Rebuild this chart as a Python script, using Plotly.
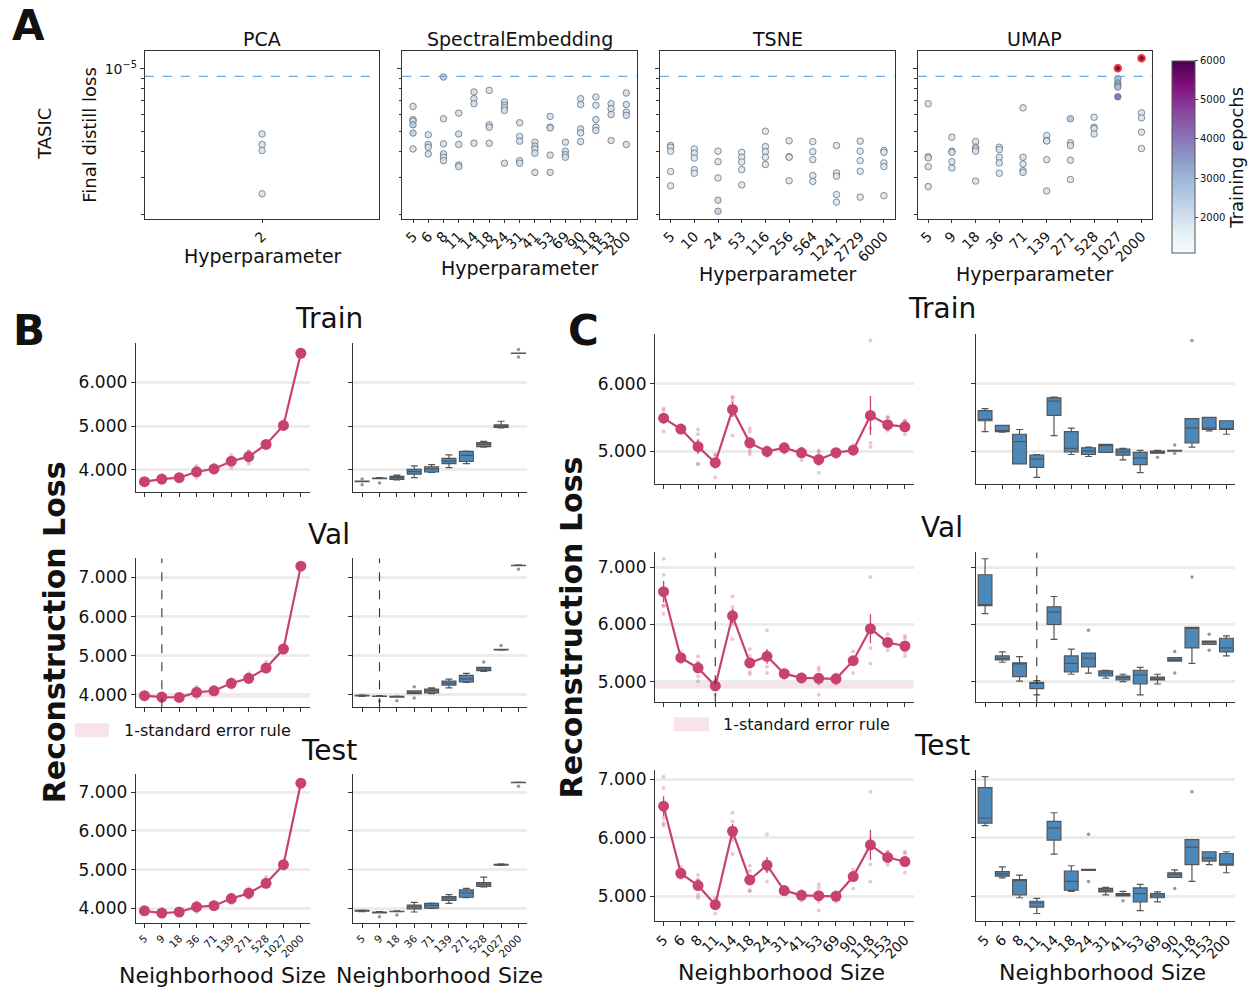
import numpy as np
import plotly.graph_objects as go

W, H = 1256, 990
def fx(px): return px / W
def fy(py): return 1 - py / H

# ---------------- Panel A data (final distill loss, in units of 1e-6) ----------------
THRESH = 9.19           # dashed reference line (x1e-6)
EPOCH_RANGE = (1080, 6000)

pca_hp = ["2"]
pca_loss = [[4.86, 4.33, 4.05, 2.51]]
pca_epochs = [[1900, 1900, 1900, 1900]]

se_hp = ["5", "6", "8", "11", "14", "18", "24", "31", "41", "53", "69", "90", "118", "153", "200"]
se_loss = [
    [6.59, 5.70, 5.60, 5.38, 4.91, 4.12],
    [4.82, 4.33, 4.20, 3.90],
    [9.12, 5.75, 4.36, 3.90, 3.76, 3.62],
    [6.12, 4.86, 4.33, 3.45, 3.39],
    [7.73, 7.18, 6.79, 4.39],
    [7.87, 5.38, 5.24, 4.39],
    [6.92, 6.67, 6.49, 6.31, 3.52],
    [5.50, 4.73, 4.49, 3.62, 3.52],
    [4.44, 4.25, 4.12, 3.93, 3.18],
    [5.90, 5.24, 5.20, 3.85, 3.18],
    [4.44, 4.02, 3.87, 3.76],
    [7.18, 6.73, 5.14, 4.92, 4.47],
    [7.31, 6.67, 5.70, 5.24, 5.05],
    [6.79, 6.43, 6.03, 4.52],
    [7.64, 6.73, 6.19, 5.97, 4.33],
]
se_epochs = [
    [2000, 2300, 2000, 2500, 2400, 2000],
    [2000, 2000, 2000, 2000],
    [2400, 2000, 2000, 2000, 2000, 2000],
    [2000, 2000, 2000, 2000, 2000],
    [2000, 2000, 2000, 2000],
    [2000, 2000, 2000, 2000],
    [2000, 2000, 2000, 2000, 2000],
    [2000, 2000, 2000, 2000, 2000],
    [2000, 2000, 2000, 2000, 2000],
    [2000, 2000, 2000, 2000, 2000],
    [2000, 2000, 2000, 2000],
    [2000, 2000, 2000, 2000, 2000],
    [2000, 2000, 2000, 2000, 2000],
    [2000, 2000, 2000, 2000],
    [2000, 2000, 2000, 2000, 2000],
]

tsne_hp = ["5", "10", "24", "53", "116", "256", "564", "1241", "2729", "6000"]
tsne_loss = [
    [4.28, 4.20, 4.02, 3.21, 2.74],
    [4.12, 3.93, 3.73, 3.28, 3.15],
    [4.02, 3.58, 2.99, 2.34, 2.07],
    [3.97, 3.76, 3.57, 3.28, 2.77],
    [5.01, 4.23, 4.00, 3.76, 3.47],
    [4.51, 3.78, 3.76, 2.90],
    [4.47, 4.00, 3.66, 3.07, 2.88],
    [4.28, 3.16, 3.05, 2.49, 2.29],
    [4.49, 4.02, 3.62, 3.22, 2.42],
    [4.05, 3.97, 3.53, 3.39, 2.46],
]
tsne_epochs = [[1800] * len(v) for v in tsne_loss]
tsne_epochs[2] = [1800, 1800, 1800, 2100, 2300]

umap_hp = ["5", "9", "18", "36", "71", "139", "271", "528", "1027", "2000"]
umap_loss = [
    [6.79, 3.78, 3.73, 3.39, 2.72],
    [4.69, 4.02, 3.97, 3.58, 3.34],
    [4.47, 4.20, 4.12, 4.02, 2.89],
    [4.20, 4.09, 3.76, 3.53, 3.15],
    [6.49, 3.76, 3.49, 3.24, 3.18],
    [4.78, 4.52, 4.50, 3.66, 2.59],
    [5.75, 4.41, 4.28, 3.64, 2.94],
    [5.85, 5.24, 5.16, 4.86],
    [10.04, 8.95, 8.53, 8.32, 8.16, 7.33],
    [11.21, 6.14, 5.81, 4.96, 4.14],
]
umap_epochs = [
    [1900, 1900, 1900, 1900, 1900],
    [1900, 1900, 1900, 1900, 1900],
    [1900, 1900, 1900, 1900, 1900],
    [1900, 1900, 1900, 1900, 1900],
    [1900, 1900, 1900, 1900, 1900],
    [1900, 1900, 1900, 1900, 1900],
    [2600, 2000, 2000, 1900, 1900],
    [1900, 1900, 1900, 1900],
    [6000, 2900, 2900, 2900, 2900, 4300],
    [6000, 1900, 1900, 1900, 1900],
]

# ---------------- Panel B data (reconstruction loss per seed) ----------------
b_hp = ["5", "9", "18", "36", "71", "139", "271", "528", "1027", "2000"]
b_train = [
    [3.66, 3.73, 3.73, 3.74, 3.79], [3.70, 3.80, 3.81, 3.81, 3.82], [3.77, 3.78, 3.82, 3.85, 3.88],
    [3.82, 3.90, 3.96, 4.01, 4.09], [3.94, 3.95, 4.02, 4.07, 4.12], [4.05, 4.14, 4.20, 4.26, 4.34],
    [4.14, 4.19, 4.33, 4.42, 4.43], [4.52, 4.53, 4.58, 4.62, 4.65], [4.96, 4.97, 5.00, 5.03, 5.11],
    [6.58, 6.66, 6.66, 6.67, 6.75],
]
b_val = [
    [3.96, 3.97, 3.98, 3.99, 4.00], [3.84, 3.96, 3.97, 3.97, 3.98], [3.85, 3.94, 3.95, 3.96, 3.97],
    [3.92, 4.03, 4.06, 4.10, 4.21], [4.03, 4.05, 4.11, 4.15, 4.18], [4.18, 4.25, 4.30, 4.35, 4.40],
    [4.32, 4.33, 4.41, 4.50, 4.55], [4.60, 4.62, 4.66, 4.70, 4.84], [5.14, 5.15, 5.15, 5.16, 5.26],
    [7.21, 7.30, 7.31, 7.31, 7.32],
]
b_test = [
    [3.92, 3.93, 3.94, 3.95, 3.96], [3.79, 3.89, 3.90, 3.91, 3.92], [3.83, 3.92, 3.93, 3.93, 3.94],
    [3.91, 3.99, 4.05, 4.09, 4.16], [4.00, 4.01, 4.08, 4.13, 4.14], [4.13, 4.21, 4.27, 4.31, 4.36],
    [4.28, 4.29, 4.40, 4.48, 4.52], [4.56, 4.57, 4.63, 4.67, 4.81], [5.11, 5.12, 5.13, 5.14, 5.15],
    [7.15, 7.24, 7.25, 7.25, 7.26],
]
b_best = 1
b_band = (3.93, 4.01)

# ---------------- Panel C data ----------------
c_hp = ["5", "6", "8", "11", "14", "18", "24", "31", "41", "53", "69", "90", "118", "153", "200"]
c_train = [
    [5.29, 5.45, 5.47, 5.60, 5.63], [5.28, 5.29, 5.30, 5.38, 5.38], [4.81, 4.81, 5.14, 5.25, 5.32],
    [4.61, 4.76, 4.88, 4.94, 4.95], [5.23, 5.53, 5.74, 5.79, 5.80], [4.95, 4.99, 5.04, 5.29, 5.34],
    [4.92, 4.95, 5.00, 5.05, 5.06], [4.98, 4.98, 5.08, 5.10, 5.10], [4.87, 4.94, 4.99, 5.03, 5.04],
    [4.68, 4.80, 4.90, 4.98, 5.01], [4.91, 4.97, 4.99, 5.00, 5.01], [4.97, 5.00, 5.00, 5.01, 5.09],
    [5.06, 5.12, 5.34, 5.48, 6.64], [5.30, 5.32, 5.34, 5.50, 5.50], [5.25, 5.32, 5.33, 5.45, 5.45],
]
c_val = [
    [6.19, 6.33, 6.33, 6.87, 7.15], [5.34, 5.38, 5.41, 5.45, 5.52], [5.01, 5.09, 5.33, 5.33, 5.44],
    [4.77, 4.88, 4.97, 4.99, 5.02], [5.74, 6.00, 6.22, 6.31, 6.49], [5.13, 5.17, 5.32, 5.45, 5.57],
    [5.15, 5.26, 5.41, 5.50, 5.90], [5.06, 5.10, 5.15, 5.19, 5.20], [5.00, 5.03, 5.07, 5.10, 5.13],
    [4.77, 4.96, 5.12, 5.20, 5.25], [4.96, 5.03, 5.05, 5.08, 5.13], [5.15, 5.36, 5.38, 5.42, 5.53],
    [5.32, 5.59, 5.94, 5.95, 6.83], [5.55, 5.65, 5.69, 5.71, 5.83], [5.45, 5.52, 5.59, 5.76, 5.80],
]
c_test = [
    [6.21, 6.25, 6.34, 6.86, 7.05], [5.31, 5.34, 5.38, 5.42, 5.50], [4.97, 5.02, 5.27, 5.28, 5.36],
    [4.70, 4.81, 4.88, 4.91, 4.96], [5.72, 5.96, 6.17, 6.28, 6.43], [5.08, 5.10, 5.25, 5.43, 5.52],
    [5.25, 5.44, 5.45, 5.46, 6.06], [5.02, 5.07, 5.10, 5.13, 5.15], [4.92, 5.00, 5.02, 5.04, 5.08],
    [4.75, 4.90, 5.04, 5.14, 5.20], [4.90, 4.97, 5.00, 5.04, 5.07], [5.13, 5.32, 5.37, 5.40, 5.45],
    [5.25, 5.54, 5.84, 5.97, 6.79], [5.54, 5.60, 5.65, 5.76, 5.76], [5.40, 5.53, 5.54, 5.73, 5.76],
]
c_best = 3
c_band = (4.88, 5.01)

# ---------------- styling ----------------
FONT = "DejaVu Sans"
PINK = "#C8426E"
BOXFILL = "#4C88BA"
AXC = "#333333"

fig = go.Figure()
layout = dict(width=W, height=H, margin=dict(l=0, r=0, t=0, b=0),
              paper_bgcolor="white", plot_bgcolor="white", showlegend=False,
              font=dict(family=FONT, color="#111"))
annotations, shapes = [], []
ax_n = [0]


def new_axes(x0, x1, y0, y1, xkw, ykw):
    ax_n[0] += 1
    n = ax_n[0]
    s = "" if n == 1 else str(n)
    layout["xaxis" + s] = dict(domain=[fx(x0), fx(x1)], anchor="y" + s, **xkw)
    layout["yaxis" + s] = dict(domain=[fy(y1), fy(y0)], anchor="x" + s, **ykw)
    return "x" + s, "y" + s


def text(x, y, t, size, bold=False, angle=0, xanchor="center", yanchor="middle", color="#111"):
    annotations.append(dict(x=fx(x), y=fy(y), xref="paper", yref="paper", text=(f"<b>{t}</b>" if bold else t),
                            showarrow=False, font=dict(size=size, family=FONT, color=color),
                            textangle=angle, xanchor=xanchor, yanchor=yanchor))


# ---------------- Panel A ----------------
A_Y0, A_Y1 = 50, 218
minor_vals = [k * 1e-6 for k in range(2, 10)]


def panel_a(x0, x1, hp, loss, epochs, show_ylab, title, colorbar=False):
    n = len(hp)
    pad = 0.5 if n == 1 else 0.05 * (n - 1)
    xkw = dict(range=[-pad, n - 1 + pad], tickvals=list(range(n)), ticktext=hp, tickangle=-45,
               tickfont=dict(size=14, family=FONT), showline=True, mirror=True, linecolor=AXC, linewidth=1,
               ticks="outside", ticklen=3, tickcolor=AXC, showgrid=False, zeroline=False)
    ykw = dict(type="log", range=[-5.72, -4.915], tickvals=[1e-5], ticktext=["10<sup>−5</sup>"],
               showticklabels=show_ylab, tickfont=dict(size=14, family=FONT), ticks="outside", ticklen=4,
               tickcolor=AXC, showline=True, mirror=True, linecolor=AXC, linewidth=1, showgrid=False,
               zeroline=False,
               minor=dict(tickvals=minor_vals, ticks="outside", ticklen=2.5, tickcolor=AXC, showgrid=False))
    xa, ya = new_axes(x0, x1, A_Y0, A_Y1, xkw, ykw)
    xs, ys, cs, lc, lw = [], [], [], [], []
    for i, (vals, eps) in enumerate(zip(loss, epochs)):
        for v, e in zip(vals, eps):
            xs.append(i); ys.append(v * 1e-6); cs.append(e)
            above = v > THRESH
            lc.append("#ff1a1a" if above else "#5a6470")
            lw.append(2 if above else 0.8)
    mk = dict(size=6.5, color=cs, colorscale="BuPu", cmin=EPOCH_RANGE[0], cmax=EPOCH_RANGE[1],
              line=dict(color=lc, width=lw), opacity=0.9, showscale=colorbar)
    if colorbar:
        mk["colorbar"] = dict(x=fx(1172), xanchor="left", y=fy(60), yanchor="top", len=(252 - 60) / H,
                              lenmode="fraction", thickness=23, thicknessmode="pixels", xpad=0, ypad=0,
                              tickvals=[2000, 3000, 4000, 5000, 6000], tickfont=dict(size=10, family=FONT),
                              ticks="outside", ticklen=3, outlinewidth=1, outlinecolor="#555")
    fig.add_trace(go.Scatter(x=xs, y=ys, mode="markers", xaxis=xa, yaxis=ya, marker=mk, hoverinfo="skip"))
    shapes.append(dict(type="line", xref=xa + " domain", x0=0, x1=1, yref=ya, y0=THRESH * 1e-6, y1=THRESH * 1e-6,
                       line=dict(color="#6fa8dc", width=1.3, dash="dash")))
    text((x0 + x1) / 2, 38, title, 19)


panel_a(143, 378, pca_hp, pca_loss, pca_epochs, True, "PCA")
panel_a(401, 636, se_hp, se_loss, se_epochs, False, "SpectralEmbedding")
panel_a(659, 894, tsne_hp, tsne_loss, tsne_epochs, False, "TSNE")
panel_a(917, 1152, umap_hp, umap_loss, umap_epochs, False, "UMAP", colorbar=True)

text(261, 255, "Hyperparameter", 19)
text(519, 267, "Hyperparameter", 19)
text(777, 273, "Hyperparameter", 19)
text(1035, 273, "Hyperparameter", 19)
text(88, 134, "Final distill loss", 18, angle=-90)
text(43, 133, "TASIC", 18, angle=-90)
text(1237, 157, "Training epochs", 18, angle=-90)
text(27, 25, "A", 42, bold=True)


# ---------------- Panels B & C ----------------
def row(xl, xr, yy, yrange, ytick, vals, hp, show_xlab, xtfont, best=None, band=None):
    n = len(hp)
    xkw = dict(range=[-0.5, n - 0.5], tickvals=list(range(n)), ticktext=hp, tickangle=-45,
               showticklabels=show_xlab, tickfont=dict(size=xtfont, family=FONT), ticks="outside", ticklen=4,
               tickcolor=AXC, showline=True, linecolor=AXC, linewidth=1.2, showgrid=False, zeroline=False)

    def ykw(lab):
        return dict(range=yrange, tickvals=ytick, tickformat=".3f", showticklabels=lab,
                    tickfont=dict(size=17, family=FONT), ticks="outside", ticklen=4, tickcolor=AXC,
                    showline=True, linecolor=AXC, linewidth=1.2, showgrid=True, gridcolor="#ececec",
                    gridwidth=2.5, zeroline=False)

    # line (point) plot
    xa, ya = new_axes(xl[0], xl[1], yy[0], yy[1], xkw, ykw(True))
    if band is not None:
        shapes.append(dict(type="rect", xref=xa + " domain", x0=0, x1=1, yref=ya, y0=band[0], y1=band[1],
                           fillcolor="rgba(205,80,120,0.16)", line=dict(width=0), layer="below"))
    means = [float(np.mean(v)) for v in vals]
    sems = [float(np.std(v, ddof=1) / np.sqrt(len(v))) for v in vals]
    rx = [i for i, v in enumerate(vals) for _ in v]
    ry = [y for v in vals for y in v]
    fig.add_trace(go.Scatter(x=rx, y=ry, mode="markers", xaxis=xa, yaxis=ya, hoverinfo="skip",
                             marker=dict(size=4, color=PINK, opacity=0.3)))
    fig.add_trace(go.Scatter(x=list(range(n)), y=means, mode="lines+markers", xaxis=xa, yaxis=ya,
                             line=dict(color=PINK, width=2.2), marker=dict(size=11, color=PINK),
                             error_y=dict(type="data", array=sems, color=PINK, thickness=1.3, width=0)))
    # box plot
    xb, yb = new_axes(xr[0], xr[1], yy[0], yy[1], xkw, ykw(False))
    fig.add_trace(go.Box(x=rx, y=ry, xaxis=xb, yaxis=yb, boxpoints="outliers", width=0.8, whiskerwidth=0.5,
                         quartilemethod="inclusive",
                         fillcolor=BOXFILL, line=dict(color="#555555", width=1.2),
                         marker=dict(size=3.5, color="#8d9aa6"), hoverinfo="skip"))
    if best is not None:
        for a_x, a_y in ((xa, ya), (xb, yb)):
            shapes.append(dict(type="line", xref=a_x, x0=best, x1=best, yref=a_y + " domain", y0=0, y1=1,
                               line=dict(color="#333", width=1.1, dash="dash")))


BXL, BXR = (134, 308), (352, 526)
row(BXL, BXR, (342, 491), [3.505, 6.906], [4, 5, 6], b_train, b_hp, False, 10)
row(BXL, BXR, (558, 707), [3.682, 7.487], [4, 5, 6, 7], b_val, b_hp, False, 10, best=b_best, band=b_band)
row(BXL, BXR, (774, 923), [3.625, 7.46], [4, 5, 6, 7], b_test, b_hp, True, 10.5)

CXL, CXR = (654, 913), (976, 1235)
row(CXL, CXR, (333, 483), [4.52, 6.74], [5, 6], c_train, c_hp, False, 14)
row(CXL, CXR, (552, 702), [4.64, 7.26], [5, 6, 7], c_val, c_hp, False, 14, best=c_best, band=c_band)
row(CXL, CXR, (770, 921), [4.57, 7.16], [5, 6, 7], c_test, c_hp, True, 14)

for (x, y, t) in [(328, 318, "Train"), (328, 534, "Val"), (328, 750, "Test"),
                  (941, 308, "Train"), (941, 527, "Val"), (941, 745, "Test")]:
    text(x, y, t, 28)
text(52, 632, "Reconstruction Loss", 30, bold=True, angle=-90)
text(570, 627, "Reconstruction Loss", 30, bold=True, angle=-90)
for (x, y) in [(221, 975), (438, 975), (781, 972), (1102, 972)]:
    text(x, y, "Neighborhood Size", 22)
text(27, 330, "B", 42, bold=True)
text(582, 330, "C", 42, bold=True)

# 1-standard-error legends
for (sx0, sx1, sy0, sy1, tx, ty) in [(73, 107, 723, 737, 120, 730), (673, 708, 717, 731, 720, 724)]:
    shapes.append(dict(type="rect", xref="paper", yref="paper", x0=fx(sx0), x1=fx(sx1), y0=fy(sy1), y1=fy(sy0),
                       fillcolor="rgba(205,80,120,0.16)", line=dict(width=0)))
    text(tx, ty, "1-standard error rule", 16, xanchor="left")

layout["annotations"] = annotations
layout["shapes"] = shapes
fig.update_layout(**layout)
fig.write_html("out.html")
